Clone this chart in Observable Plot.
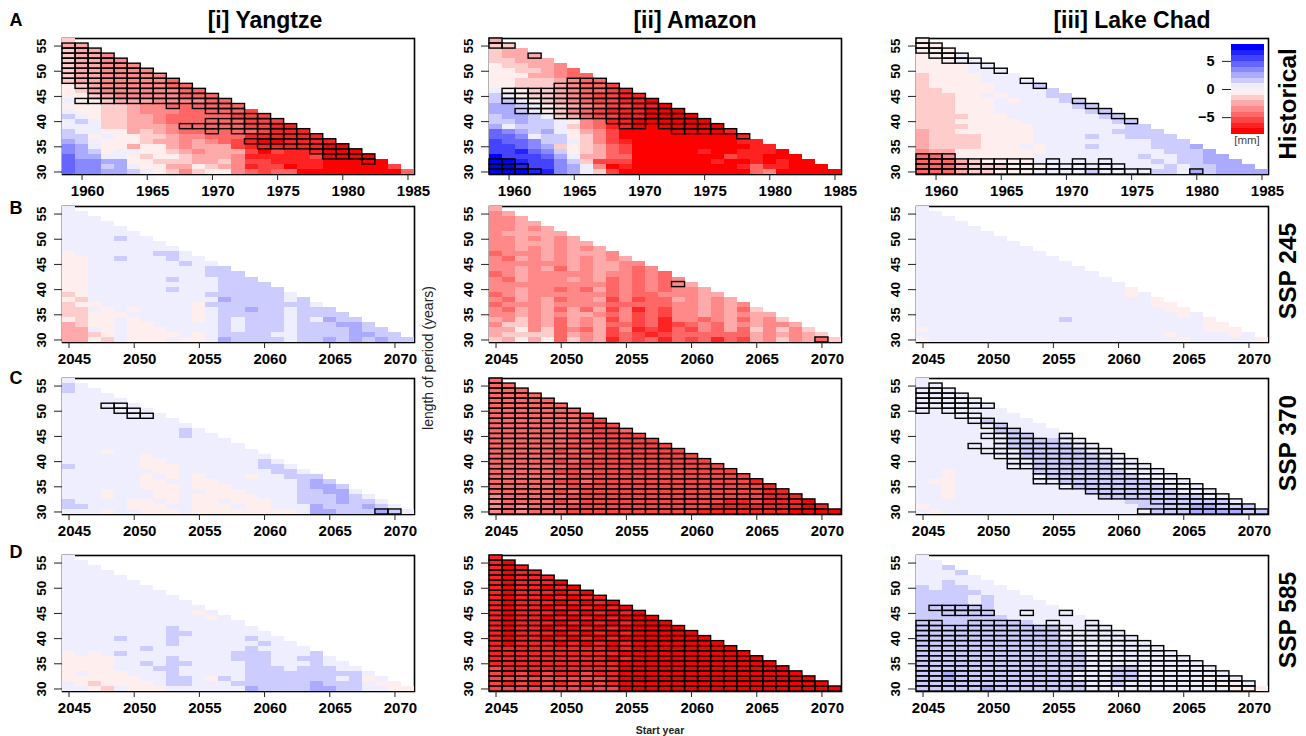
<!DOCTYPE html>
<html>
<head>
<meta charset="utf-8">
<script src="https://cdn.jsdelivr.net/npm/d3@7"></script>
<script src="https://cdn.jsdelivr.net/npm/@observablehq/plot@0.6"></script>
<style>
html,body{margin:0;padding:0;background:#fff}
#page{position:relative;width:1306px;height:736px;overflow:hidden;font-family:"Liberation Sans",Arial,sans-serif;color:#000}
.t{position:absolute;white-space:nowrap;line-height:1}
.c{transform:translate(-50%,-50%)}
.r{transform:translate(-50%,-50%) rotate(-90deg)}
</style>
</head>
<body>
<div id="page"></div>
<script>
// Each row is one period length, 56 years at the top down to 30 at the bottom.
// Each character is a colour-class index 0..f of the [mm] scale: 0 = below -7, f = above +7.
const yangtzeHist = ["6","55","655","6554","65544","65544 4","65544 44","65544 444","65544 4443","76544 44433","76544 44443 3","77654 44443 33","87765 55444 433","77766 54433 3333","87766 54443 33332","98766 55433 33322 2","89866 55433 33332 22","88866 55543 33332 211","98877 56543 33333 2111","99787 76654 43331 11111","a9877 76554 54321 00111 1","ba877 57754 55521 11111 00","ba978 87765 45552 02111 000","caa88 76776 55541 11112 0000","cbbaa 77666 55642 21111 00000","cbb9a 87755 76541 22011 00000 2","cbbaa 98764 67743 23300 00000 03"];
const amazonHist = ["5","66","655","6555","66555","76655 4","77665 43","77755 433","77666 5433","77666 54332","87766 54332 1","98766 54322 11","99876 54322 110","aa987 65432 2110","aa987 64321 11000","9aa98 65322 11000 0","99a99 87431 10000 00","a8999 86431 10000 000","cba9a 87542 00000 0001","ccb89 97642 00000 00001","dccb9 98642 10000 00001 1","ddcba 67653 20000 00000 11","ddecb 97653 20000 01001 110","fdddc a8553 30000 00021 1000","ffedd b9622 20000 00100 10100","ffedd ba840 10000 00001 31100 0","fffee ba862 00000 00000 34000 00"];
const chadHist = ["7","77","777","7778","77788","77778 8","77778 88","67777 888","67777 8888","67777 78889","66777 78888 9","66677 87888 99","66677 78788 899","66677 78888 8899","66677 78888 88899","66667 77888 88889 9","66677 77788 88888 99","66667 77778 88888 899","56677 77778 88888 9999","56666 77778 88898 89999","56666 77778 88888 88899 9","56666 77787 88898 88899 9a","45577 77777 88888 88889 99a","33477 77778 88888 88988 99aa","33356 77778 88888 88898 99aaa","33356 66777 88888 88889 899aa a","33356 67778 88898 88899 8a9aa aa"];
const yangtze245 = ["8","88","888","8888","88888","88888 8","88889 88","88888 888","88888 8888","78888 88998","77889 88898 8","77888 88889 88","77888 88888 899","77888 88888 8999","77888 88898 88999","77888 88888 88999 9","77888 88898 88999 99","67888 88888 89999 998","76888 88888 88a99 9989","67788 88888 79999 99998","66878 78888 7899a 99899 9","66777 88888 78999 99899 99","76778 78888 78989 99898 a99","56778 77888 88989 99899 9aa9","55878 77788 88989 99899 99a99","55678 77778 78999 98899 99aa99","55768 77787 78a99 99899 a9a9a 99"];
const amazon245 = ["5","45","445","4455","44545","45555 5","44545 45","44555 455","44545 4545","34445 45554","43545 45454 5","44444 45455 44","44545 35455 434","34544 44454 4343","43544 45453 43434","44444 44443 43434 5","44544 34353 43434 45","34544 44443 43344 455","43545 34452 42335 4545","34445 44443 33334 45454","43545 35352 41324 45453 6","44545 45543 42324 45454 55","54645 35452 42314 43453 546","46645 35453 32312 34354 5445","55746 34352 41213 24353 64646","56666 35452 32123 33333 54545 6","65757 36451 32313 23132 54645 36"];
const chad245 = ["8","88","888","8888","88888","88888 8","88888 88","88888 888","88888 8888","88888 88888","88888 88888 8","88888 88888 88","88888 88888 888","88888 88888 8888","88888 88888 88888","88888 88888 88888 8","88888 88888 88888 87","88888 88888 88888 878","88888 88888 88888 8887","88888 88888 88888 88877","88888 88888 88888 88887 7","88888 88888 88888 88888 78","88888 88888 89888 88888 887","88888 88888 88888 88888 8877","78888 88888 88888 88888 88777","88888 88888 88888 88887 88887 8","78888 88888 88888 88888 78888 87"];
const yangtze370 = ["8","98","988","8888","88888","88888 8","88888 88","88888 888","88888 8888","88888 88888","88888 88889 8","88888 88889 88","88888 88888 888","88888 88888 8888","88878 88888 88888","88888 87888 88888 8","88888 87788 88888 98","98888 87778 88888 998","88888 88778 88888 8998","88888 87878 78887 88999","88888 87788 77888 8889a 9","88888 87778 77788 8889a a9","88878 88778 87778 88899 aa8","88878 88778 77777 88899 9a98","98888 77878 77877 78899 9a998","99888 77788 77787 7888a 999a98","88878 87778 77777 7778a a999a98"];
const amazon370 = ["3","33","333","3333","33333","33333 3","33333 33","33333 332","33333 3322","33333 33322","33333 33222 3","33333 32322 22","33333 33222 222","33333 32322 2222","33333 23222 22222","33333 32322 22222 2","33333 23222 22222 22","33333 32222 22222 222","33333 22322 22222 2222","33333 32222 22222 22222","33333 22322 22222 22222 1","33333 32222 22222 22222 21","33333 23222 22222 22222 211","43333 32222 22222 22222 2111","43333 23222 22222 22211 21110","43433 32222 22222 22111 11110 1","43433 32222 22222 21111 11100 00"];
const chad370 = ["8","88","888","8888","88888","88888 8","88888 88","88888 888","88888 9888","88888 89888","88888 89988 8","88888 88998 88","88888 88999 988","88888 88999 9988","88888 88899 99988","88888 88899 99998 8","88888 88889 99999 88","88888 88889 99999 888","88788 88889 99999 9888","88788 88888 99999 99888","87788 88888 89999 99988 8","88788 88888 88999 99998 88","88788 88888 88899 99999 888","88788 88888 88889 99999 9988","88888 88888 88888 89999 99998","78888 88888 88888 88999 9aa99 9","87888 88888 88888 88899 9aaaa 99"];
const yangtze585 = ["8","88","888","8888","88888","88888 8","88888 88","88888 888","88888 8888","88888 88888","88888 88888 8","88888 88888 78","88888 88888 878","88888 88888 8888","88888 88898 88888","88888 88899 88888 8","88889 88898 88889 88","88888 88898 88888 988","88888 89888 88889 8888","78789 88888 88899 98889","77778 88898 88899 98899 8","77778 89899 88889 98889 88","77778 88998 88889 99899 988","78777 88898 88889 99999 9998","77777 78899 87989 99999 98978","87677 77899 88899 9999a 999877","88768 77788 8888a 9999a a998877"];
const amazon585 = ["1","10","101","1011","10111","10111 0","10110 10","10111 010","10110 1011","10111 01010","10110 10101 0","10111 01010 10","10110 10101 000","10111 01010 1000","10110 10101 00000","10111 01010 10000 0","10110 10101 00000 00","10111 01010 10000 000","11111 11110 10000 0000","11111 11111 00000 00000","11111 11110 10000 00000 0","11111 11111 00000 00000 00","21111 11111 00000 00000 000","21212 11211 00000 00000 0000","22222 22221 00000 00000 00000","21212 12121 00000 00000 00000 0","22222 22222 00000 00000 00000 00"];
const chad585 = ["8","88","889","8889","88888","88988 8","98998 88","99999 888","99998 9888","99998 98888","99999 98888 8","99999 98888 88","99999 99888 888","99999 99998 8888","99999 99999 98888","99999 99999 98888 8","99999 99999 98888 88","99999 99999 99888 888","99999 99999 99888 8888","99999 99999 99988 88888","99999 99999 99988 88888 8","99999 99999 99988 88888 88","99999 99999 99988 99888 888","99a99 99999 99888 99888 8888","99a99 99999 99888 99888 88788","99999 99999 99988 98888 88877 8","99999 a9999 99988 88888 8888777"];

// Significant cells: [period length, first column, last column], columns counted from the first start year.
const yangtzeHistSig = [[55,0,1],[54,0,2],[53,0,3],[52,0,4],[51,0,5],[50,0,6],[49,0,7],[48,0,8],[47,1,9],[46,2,10],[45,2,11],[44,1,12],[43,8,8],[43,10,13],[42,11,13],[41,13,15],[40,11,16],[39,9,17],[38,11,11],[38,13,18],[37,15,19],[36,14,20],[35,15,21],[34,19,22],[33,20,23],[32,23,23]];
const amazonHistSig = [[56,0,0],[55,0,1],[53,3,3],[48,6,8],[47,5,9],[46,1,10],[45,1,11],[44,1,12],[43,3,13],[42,2,14],[41,5,15],[40,9,16],[39,10,11],[39,13,17],[38,14,18],[37,19,19],[32,0,1],[31,0,2],[30,0,3]];
const chadHistSig = [[56,0,0],[55,0,1],[54,0,2],[53,1,3],[52,2,4],[51,5,5],[50,6,6],[48,8,8],[47,9,9],[44,12,12],[43,13,13],[42,14,14],[41,15,15],[40,16,16],[33,0,2],[32,0,8],[32,10,10],[32,12,12],[32,14,14],[31,0,15],[30,0,17],[30,21,21]];
const yangtze245Sig = [];
const amazon245Sig = [[41,14,14],[30,25,25]];
const chad245Sig = [];
const yangtze370Sig = [[51,3,4],[50,4,5],[49,5,6],[30,24,25]];
const amazon370Sig = [[56,0,0],[55,0,1],[54,0,2],[53,0,3],[52,0,4],[51,0,5],[50,0,6],[49,0,7],[48,0,8],[47,0,9],[46,0,10],[45,0,11],[44,0,12],[43,0,13],[42,0,14],[41,0,15],[40,0,16],[39,0,17],[38,0,18],[37,0,19],[36,0,20],[35,0,21],[34,0,22],[33,0,23],[32,0,24],[31,0,25],[30,0,26]];
const chad370Sig = [[55,1,1],[54,0,2],[53,0,3],[52,0,4],[51,0,5],[50,0,0],[50,2,3],[49,3,4],[48,4,5],[47,5,6],[46,6,7],[45,5,8],[45,11,11],[44,6,9],[44,11,12],[43,4,4],[43,6,13],[42,5,14],[41,6,15],[40,7,16],[39,7,17],[38,9,18],[37,9,19],[36,9,20],[35,11,21],[34,13,22],[33,14,23],[32,18,24],[31,19,25],[30,17,26]];
const yangtze585Sig = [];
const amazon585Sig = amazon370Sig;
const chad585Sig = [[46,1,4],[45,2,5],[45,8,8],[45,11,11],[43,0,1],[43,4,7],[43,10,10],[43,13,13],[42,0,11],[42,13,14],[41,0,15],[40,0,16],[39,0,17],[38,0,18],[37,0,19],[36,0,20],[35,0,21],[34,0,22],[33,0,23],[32,0,24],[31,0,25],[30,0,25]];

const longestPeriod = 56;
const histFirstYear = 1959;
const futureFirstYear = 2045;
const histYearTicks = [1960,1965,1970,1975,1980,1985];
const futureYearTicks = [2045,2050,2055,2060,2065,2070];
const lengthTicks = [30,35,40,45,50,55];
const legendTicks = [-5,0,5];
const classBreaks = [-7,-6,-5,-4,-3,-2,-1,0,1,2,3,4,5,6,7];
const classColors = ["#FF0000","#FF2222","#FF4444","#FF6666","#FF8888","#FFAAAA","#FFCCCC","#FFEEEE","#EEEEFF","#CCCCFF","#AAAAFF","#8888FF","#6666FF","#4444FF","#2222FF","#0000FF"];
const legendClasses = classColors.map((c,i)=>i-8);

const rowTitles = ["Historical","SSP 245","SSP 370","SSP 585"];
const columnTitles = ["[i] Yangtze","[ii] Amazon","[iii] Lake Chad"];
const panelLetters = ["A","B","C","D"];

const page = document.getElementById("page");
const colorScale = {type:"threshold",domain:classBreaks,range:classColors};
const font = {fontFamily:'"Liberation Sans",Arial,sans-serif',background:"transparent",position:"absolute",overflow:"visible"};

function cells(rows, first){
  const out=[];
  rows.forEach((s,i)=>{
    const len=longestPeriod-i;
    [...s.replace(/ /g,"")].forEach((ch,k)=>out.push({start:first+k,len,value:parseInt(ch,16)-7.5}));
  });
  return out;
}
function sigCells(list, first){
  const out=[];
  for(const [len,a,b] of list) for(let k=a;k<=b;k++) out.push({start:first+k,len});
  return out;
}
function panel(rows, sig, first, ticks, frameLeft, frameTop, frameW, frameH){
  const mL=45,mR=4,mT=5,mB=35;
  const half=.5;
  const svg=Plot.plot({
    width:frameW+mL+mR,height:frameH+mT+mB,
    marginLeft:mL,marginRight:mR,marginTop:mT,marginBottom:mB,
    style:{...font,left:(frameLeft-mL)+"px",top:(frameTop-mT)+"px"},
    x:{domain:[first-half,first+27-half],label:null},
    y:{domain:[29.5,56.5],label:null},
    color:colorScale,
    marks:[
      Plot.frame({stroke:"#000",strokeWidth:1.6}),
      Plot.rect(cells(rows,first),{x1:d=>d.start-half,x2:d=>d.start+half,y1:d=>d.len-half,y2:d=>d.len+half,fill:"value",shapeRendering:"crispEdges"}),
      Plot.rect(sigCells(sig,first),{x1:d=>d.start-half,x2:d=>d.start+half,y1:d=>d.len-half,y2:d=>d.len+half,fill:"none",stroke:"#000",strokeWidth:1.4}),
      Plot.axisX({ticks,tickSize:6,text:null,label:null,stroke:"#222"}),
      Plot.axisX({ticks,tickSize:0,tickPadding:11,dx:5.5,fontWeight:"bold",fontSize:15,tickFormat:d=>String(d),label:null}),
      Plot.axisY({ticks:lengthTicks,tickSize:8,tickPadding:9,tickRotate:-90,fontWeight:"bold",fontSize:13.5,label:null,stroke:"#222"})
    ]
  });
  page.appendChild(svg);
}
const frameLefts=[61.7,488.7,915.7];
const frameTops=[37.5,206,377.5,555];
const frameW=352, frameH=136;
const grid=[
 [[yangtzeHist,yangtzeHistSig],[amazonHist,amazonHistSig],[chadHist,chadHistSig]],
 [[yangtze245,yangtze245Sig],[amazon245,amazon245Sig],[chad245,chad245Sig]],
 [[yangtze370,yangtze370Sig],[amazon370,amazon370Sig],[chad370,chad370Sig]],
 [[yangtze585,yangtze585Sig],[amazon585,amazon585Sig],[chad585,chad585Sig]]
];
grid.forEach((row,r)=>row.forEach(([v,s],c)=>{
  panel(v,s,r===0?histFirstYear:futureFirstYear,r===0?histYearTicks:futureYearTicks,frameLefts[c],frameTops[r],frameW,frameH);
}));

// colour key inside the top-right panel
page.appendChild(Plot.plot({
  width:83,height:100,marginLeft:50,marginRight:0,marginTop:5,marginBottom:5,
  style:{...font,left:"1181px",top:"38.5px"},
  x:{domain:[0,1],axis:null},
  y:{domain:[-8,8],label:null},
  color:colorScale,
  marks:[
    Plot.rect(legendClasses,{x1:0,x2:1,y1:d=>d,y2:d=>d+1,fill:d=>d+.5,shapeRendering:"crispEdges"}),
    Plot.axisY({ticks:legendTicks,tickSize:9,tickPadding:8,fontWeight:"bold",fontSize:14.5,label:null,tickFormat:d=>d<0?"\u2212"+(-d):String(d),stroke:"#222"})
  ]
}));

function label(text,x,y,cls,css){
  const el=document.createElement("div");
  el.className="t "+cls; el.textContent=text;
  el.style.left=x+"px"; el.style.top=y+"px";
  Object.assign(el.style,css);
  page.appendChild(el);
}
const titleX=[265,695,1132];
columnTitles.forEach((t,i)=>label(t,titleX[i],20,"c",{fontSize:"23px",fontWeight:"bold"}));
const sideY=[104,271,443,620];
rowTitles.forEach((t,i)=>label(t,1288,sideY[i],"r",{fontSize:"24.5px",fontWeight:"bold"}));
const letterY=[20,208,378,552];
panelLetters.forEach((t,i)=>label(t,16,letterY[i],"c",{fontSize:"18px",fontWeight:"bold"}));
label("length of period (years)",428,358,"r",{fontSize:"14px",color:"#222"});
label("Start year",660,730,"c",{fontSize:"10.5px",fontWeight:"bold",color:"#222"});
label("[mm]",1247,141,"c",{fontSize:"11.5px",color:"#444"});
</script>
</body>
</html>
